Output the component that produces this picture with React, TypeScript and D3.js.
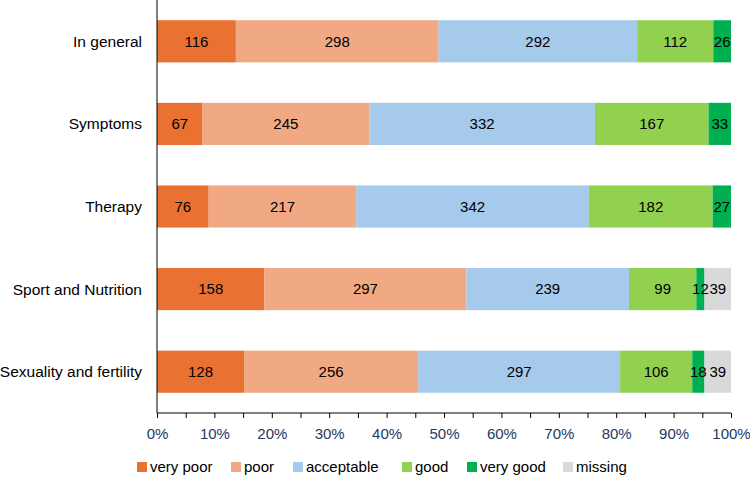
import React, { useEffect, useRef } from "react";
import * as d3 from "d3";

// survey topics, top to bottom
const categories = [
  "In general",
  "Symptoms",
  "Therapy",
  "Sport and Nutrition",
  "Sexuality and fertility",
];

const ratings = ["very poor", "poor", "acceptable", "good", "very good", "missing"];

// answer counts per topic, one array per rating
const veryPoor = [116, 67, 76, 158, 128];
const poor = [298, 245, 217, 297, 256];
const acceptable = [292, 332, 342, 239, 297];
const good = [112, 167, 182, 99, 106];
const veryGood = [26, 33, 27, 12, 18];
const missing = [0, 0, 0, 39, 39];

const colors = ["#E97132", "#F1A983", "#A6CAEC", "#92D050", "#00B050", "#D9D9D9"];

export default function App() {
  const ref = useRef<SVGSVGElement>(null);

  useEffect(() => {
    const width = 750;
    const height = 477;
    const marginLeft = 157;
    const marginRight = 19;
    const marginTop = 0;
    const axisY = 413;
    const font = "'Liberation Sans', Arial, sans-serif";

    const series = [veryPoor, poor, acceptable, good, veryGood, missing];
    const rows = categories.map((c, i) => {
      const row: any = { category: c };
      ratings.forEach((r, k) => (row[r] = series[k][i]));
      return row;
    });

    const stacked = d3.stack().keys(ratings).offset(d3.stackOffsetExpand)(rows);

    const x = d3.scaleLinear([0, 1], [marginLeft, width - marginRight]);
    const y = d3.scaleBand(categories, [marginTop, axisY]).paddingInner(0.49).paddingOuter(0.245);

    const svg = d3.select(ref.current)
      .attr("width", width)
      .attr("height", height)
      .attr("viewBox", [0, 0, width, height])
      .style("font-family", font);
    svg.selectAll("*").remove();

    // bars
    svg.append("g")
      .selectAll("g")
      .data(stacked)
      .join("g")
      .attr("fill", (_, k) => colors[k])
      .selectAll("rect")
      .data(d => d)
      .join("rect")
      .attr("x", d => x(d[0]))
      .attr("y", (d: any) => y(d.data.category)!)
      .attr("width", d => x(d[1]) - x(d[0]))
      .attr("height", y.bandwidth());

    // value labels, drawn over all bars so narrow segments can spill over
    const labels = stacked.flatMap((s: any) =>
      s.map((d: any) => ({ d, value: d.data[s.key] }))
    ).filter((o: any) => o.value > 0);

    svg.append("g")
      .selectAll("text")
      .data(labels)
      .join("text")
      .attr("x", (o: any) => (x(o.d[0]) + x(o.d[1])) / 2)
      .attr("y", (o: any) => y(o.d.data.category)! + y.bandwidth() / 2)
      .attr("dy", "0.35em")
      .attr("text-anchor", "middle")
      .attr("fill", "#000")
      .style("font-size", "15px")
      .text((o: any) => o.value);

    // x axis, ticks every 5%, labels every 10%
    const xAxis = d3.axisBottom(x)
      .tickValues(d3.range(0, 1.0001, 0.05))
      .tickSize(5)
      .tickFormat((d: any) => (Math.round(d * 100) % 10 === 0 ? d3.format(".0%")(d) : ""));

    svg.append("g")
      .attr("transform", `translate(0,${axisY})`)
      .call(xAxis)
      .call(g => g.select(".domain").attr("stroke", "#000").attr("d", `M${marginLeft},0H${width - marginRight}`))
      .call(g => g.selectAll(".tick line").attr("stroke", "#000"))
      .call(g => g.selectAll(".tick text")
        .attr("y", 15)
        .attr("fill", "#1F3864")
        .style("font-size", "15px")
        .style("font-family", font));

    // y axis
    svg.append("line")
      .attr("x1", marginLeft)
      .attr("x2", marginLeft)
      .attr("y1", 0)
      .attr("y2", axisY)
      .attr("stroke", "#000");

    svg.append("g")
      .selectAll("text")
      .data(categories)
      .join("text")
      .attr("x", marginLeft - 15)
      .attr("y", d => y(d)! + y.bandwidth() / 2)
      .attr("dy", "0.35em")
      .attr("text-anchor", "end")
      .attr("fill", "#000")
      .style("font-size", "15.5px")
      .text(d => d);

    // legend
    const legendX = [137, 231, 293, 402, 467, 563];
    const legend = svg.append("g")
      .selectAll("g")
      .data(ratings)
      .join("g")
      .attr("transform", (_, i) => `translate(${legendX[i]},467)`);
    legend.append("rect")
      .attr("x", 0)
      .attr("y", -5)
      .attr("width", 10)
      .attr("height", 10)
      .attr("fill", (_, i) => colors[i]);
    legend.append("text")
      .attr("x", 13)
      .attr("dy", "0.35em")
      .attr("fill", "#000")
      .style("font-size", "15px")
      .text(d => d);
  }, []);

  return (
    <div style={{ position: "absolute", left: 0, top: 0 }}>
      <svg ref={ref}></svg>
    </div>
  );
}
